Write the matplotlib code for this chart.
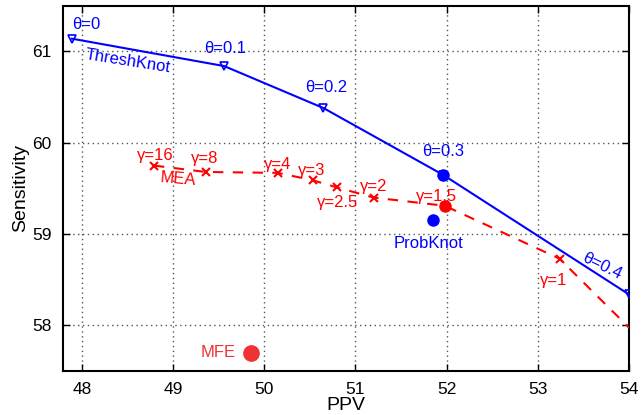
import matplotlib.pyplot as plt

plt.rcParams['font.family'] = ['Liberation Sans', 'DejaVu Sans']

# ThreshKnot (theta sweep)
thresh_ppv = [47.89, 49.56, 50.65, 51.96, 54.0]
thresh_sens = [61.14, 60.84, 60.38, 59.65, 58.34]
thresh_labels = ["θ=0", "θ=0.1", "θ=0.2", "θ=0.3", "θ=0.4"]

# MEA (gamma sweep)
mea_ppv = [48.79, 49.36, 50.15, 50.53, 50.80, 51.20, 51.98, 53.24, 54.3]
mea_sens = [59.75, 59.68, 59.67, 59.59, 59.51, 59.40, 59.31, 58.73, 57.68]
mea_labels = ["γ=16", "γ=8", "γ=4", "γ=3", "γ=2.5", "γ=2", "γ=1.5", "γ=1", ""]

probknot = (51.85, 59.15)
mfe = (49.85, 57.70)

blue = '#0000ff'
red = '#ff0000'

fig = plt.figure(figsize=(6.41, 4.15), dpi=100)
ax = fig.add_axes([0.098, 0.106, 0.883, 0.880])

ax.plot(thresh_ppv, thresh_sens, color=blue, lw=1.5, marker='v', ms=6,
        mfc='none', mew=1.2, zorder=3)
ax.plot(thresh_ppv[3], thresh_sens[3], 'o', color=blue, ms=8, zorder=4)

ax.plot(mea_ppv, mea_sens, color=red, lw=1.5, ls=(0, (5, 4.5)), marker='x',
        ms=6, mew=1.5, zorder=3)
ax.plot(mea_ppv[6], mea_sens[6], 'o', color=red, ms=8, zorder=4)

ax.plot(*probknot, 'o', color=blue, ms=8, zorder=4)
ax.plot(*mfe, 'o', color='#ee3333', ms=11, zorder=4)

fs = 12
# theta labels (offsets in points)
th_offs = [(10, 10), (1, 13), (2, 15), (0, 17), (-19, 20)]
th_rot = [0, 0, 0, 0, -26]
for x, y, lab, (dx, dy), r in zip(thresh_ppv, thresh_sens, thresh_labels, th_offs, th_rot):
    ax.annotate(lab, (x, y), xytext=(dx, dy), textcoords='offset points',
                ha='center', va='center', color=blue, fontsize=fs, rotation=r)
ax.text(48.5, 60.89, "ThreshKnot", color=blue, fontsize=fs, rotation=-9,
        ha='center', va='center')

# gamma labels
offs = [(1, 7), (-1, 10), (0, 6), (-1, 7), (0, -11), (0, 8), (-6, 7), (-4, -16)]
for x, y, lab, (dx, dy) in zip(mea_ppv, mea_sens, mea_labels, offs):
    ax.annotate(lab, (x, y), xytext=(dx, dy), textcoords='offset points',
                ha='center', va='center', color=red, fontsize=fs)
ax.text(49.05, 59.6, "MEA", color=red, fontsize=fs, rotation=-5,
        ha='center', va='center')

ax.text(probknot[0] - 0.05, probknot[1] - 0.17, "ProbKnot", color=blue,
        fontsize=fs, ha='center', va='top')
ax.text(mfe[0] - 0.16, mfe[1], "MFE", color='#ee3333', fontsize=fs,
        ha='right', va='center')

ax.set_xlim(47.79, 54)
ax.set_ylim(57.5, 61.5)
ax.set_xticks([48, 49, 50, 51, 52, 53, 54])
ax.set_yticks([58, 59, 60, 61])
ax.grid(True, ls=(0, (1, 2.5)), color='#555555', lw=1)
ax.tick_params(direction='in', length=5, width=1, top=True, right=True,
               labelsize=12.5, pad=8)
for s in ax.spines.values():
    s.set_linewidth(1.5)
ax.set_xlabel("PPV", fontsize=14, labelpad=0)
ax.set_ylabel("Sensitivity", fontsize=14, labelpad=2)

fig.savefig("out.png", dpi=100)
